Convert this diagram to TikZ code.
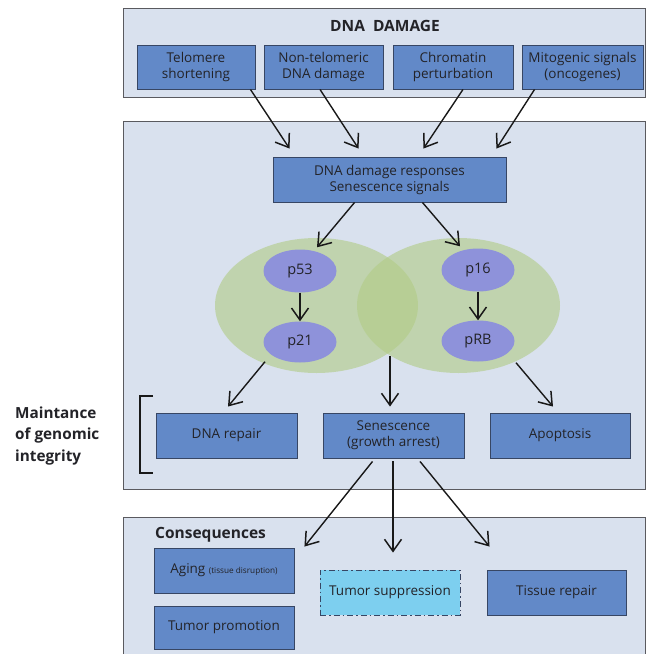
\documentclass[tikz,border=0pt]{standalone}
\usepackage{fontspec}
\setmainfont{Open Sans}
\usetikzlibrary{arrows.meta,shapes.geometric,calc}
\definecolor{panelfill}{RGB}{217,225,238}
\definecolor{panelline}{RGB}{90,90,95}
\definecolor{boxfill}{RGB}{98,137,200}
\definecolor{boxline}{RGB}{55,70,100}
\definecolor{lensgreen}{RGB}{178,204,135}
\definecolor{protfill}{RGB}{142,146,218}
\definecolor{cyanfill}{RGB}{125,207,239}
\definecolor{txt}{RGB}{35,35,40}
\tikzset{
  panel/.style={draw=panelline, line width=0.9pt, fill=panelfill},
  bluebox/.style={draw=boxline, line width=0.9pt, fill=boxfill, text=txt, align=center,
    inner sep=0pt, font=\fontsize{13.5}{16}\selectfont},
  bigell/.style={ellipse, fill=lensgreen, fill opacity=0.62, draw=none, inner sep=0pt},
  prot/.style={ellipse, fill=protfill, draw=none, text=txt, inner sep=0pt,
    minimum width=73pt, minimum height=43pt, font=\fontsize{14.5}{16}\selectfont},
  arr/.style={line width=1.4pt, draw=black!90, -{Straight Barb[length=12pt,width=17pt,line width=1.5pt]}},
  lbl/.style={font=\bfseries\fontsize{15.5}{18}\selectfont, text=txt, inner sep=0pt}
}
\begin{document}
\begin{tikzpicture}[x=1pt,y=-1pt]
\useasboundingbox (0,0) rectangle (649,654);
\fill[white] (0,0) rectangle (649,654);
% panels
\node[panel, inner sep=0pt, minimum width=522pt, minimum height=89pt] (toppanel) at (384,52.5) {};
\node[panel, inner sep=0pt, minimum width=522pt, minimum height=368pt] (midpanel) at (384,305) {};
\begin{scope}
\clip (0,0) rectangle (649,654);
\node[panel, inner sep=0pt, minimum width=522pt, minimum height=150pt] (botpanel) at (384,592) {};
\end{scope}
% top
\node[lbl] (title) at (385,26) {DNA\ \ DAMAGE};
\node[bluebox, minimum width=118pt, minimum height=44pt] (tel) at (196,67) {Telomere\\shortening};
\node[bluebox, minimum width=119pt, minimum height=44pt] (nontel) at (323.5,67) {Non-telomeric\\DNA damage};
\node[bluebox, minimum width=120pt, minimum height=44pt] (chrom) at (453,67) {Chromatin\\perturbation};
\node[bluebox, minimum width=121pt, minimum height=44pt] (mito) at (582.5,67) {Mitogenic signals\\(oncogenes)};
% middle
\node[bluebox, minimum width=233pt, minimum height=45pt] (resp) at (389.5,179.5) {DNA damage responses\\Senescence signals};
\node[bigell, minimum width=203pt, minimum height=135pt] (lell) at (316.5,305.5) {};
\node[bigell, minimum width=203pt, minimum height=135pt] (rell) at (458.5,305.5) {};
\node[prot] (p53) at (300,271) {p53};
\node[prot, minimum height=41pt] (p21) at (300,342) {p21};
\node[prot] (p16) at (478,270) {p16};
\node[prot, minimum height=41pt] (pRB) at (478,341) {pRB};
\coordinate (lensbot) at (390,356);
\node[bluebox, minimum width=141pt, minimum height=45pt] (repair) at (226.5,435.5) {DNA repair};
\node[bluebox, minimum width=141pt, minimum height=45pt] (sen) at (393.5,435.5) {Senescence\\(growth arrest)};
\node[bluebox, minimum width=140pt, minimum height=45pt] (apop) at (560,435.5) {Apoptosis};
% bracket
\draw[line width=2.8pt, black!90] (153,396) -- (140,396) -- (140,473) -- (153,473);
\node[lbl, align=left, anchor=west, font=\bfseries\fontsize{15.3}{21.5}\selectfont] (maint) at (15,436) {Maintance\\of genomic\\integrity};
% bottom
\node[lbl, anchor=west] (cons) at (155,535) {Consequences};
\node[bluebox, minimum width=140pt, minimum height=45pt] (aging) at (224,570.5) {Aging {\fontsize{8.2}{9}\selectfont(tissue disruption)}};
\node[bluebox, minimum width=140pt, minimum height=43pt] (tprom) at (224,627.5) {Tumor promotion};
\node[bluebox, fill=cyanfill, dash pattern=on 6pt off 3pt on 1.5pt off 3pt, minimum width=140pt, minimum height=45pt] (tsup) at (390,592.5) {Tumor suppression};
\node[bluebox, minimum width=139pt, minimum height=45pt] (tissue) at (556.5,592.5) {Tissue repair};
% arrows
\draw[arr] ([xshift=-5pt]tel.south east) -- ([xshift=17pt,yshift=8pt]resp.north west);
\draw[arr] ([xshift=-3.5pt]nontel.south) -- ([xshift=86pt,yshift=8pt]resp.north west);
\draw[arr] ([xshift=10pt]chrom.south) -- ([xshift=-83pt,yshift=8pt]resp.north east);
\draw[arr] ([xshift=13pt]mito.south west) -- ([xshift=-10pt,yshift=8pt]resp.north east);
\draw[arr] ([xshift=82pt]resp.south west) -- ([xshift=17pt,yshift=2pt]p53.north);
\draw[arr] ([xshift=-84pt]resp.south east) -- ([xshift=-18pt,yshift=2pt]p16.north);
\draw[arr] (p53.south) -- (p21.north);
\draw[arr] (p16.south) -- (pRB.north);
\draw[arr] ([xshift=-35pt,yshift=1pt]p21.south) -- ([xshift=1.5pt,yshift=6pt]repair.north);
\draw[arr] (lensbot) -- ([xshift=-3.5pt,yshift=6pt]sen.north);
\draw[arr] ([xshift=38pt,yshift=-1pt]pRB.south) -- ([xshift=-7pt,yshift=6pt]apop.north);
\draw[arr] ([xshift=-21pt,yshift=-3pt]sen.south) -- ([xshift=10pt,yshift=1pt]aging.north east);
\draw[arr] ([xshift=-0.5pt,yshift=-3pt]sen.south) -- ([xshift=3pt,yshift=17pt]tsup.north);
\draw[arr] ([xshift=26.5pt,yshift=-3pt]sen.south) -- ([xshift=3pt,yshift=23pt]tissue.north west);
\end{tikzpicture}
\end{document}
